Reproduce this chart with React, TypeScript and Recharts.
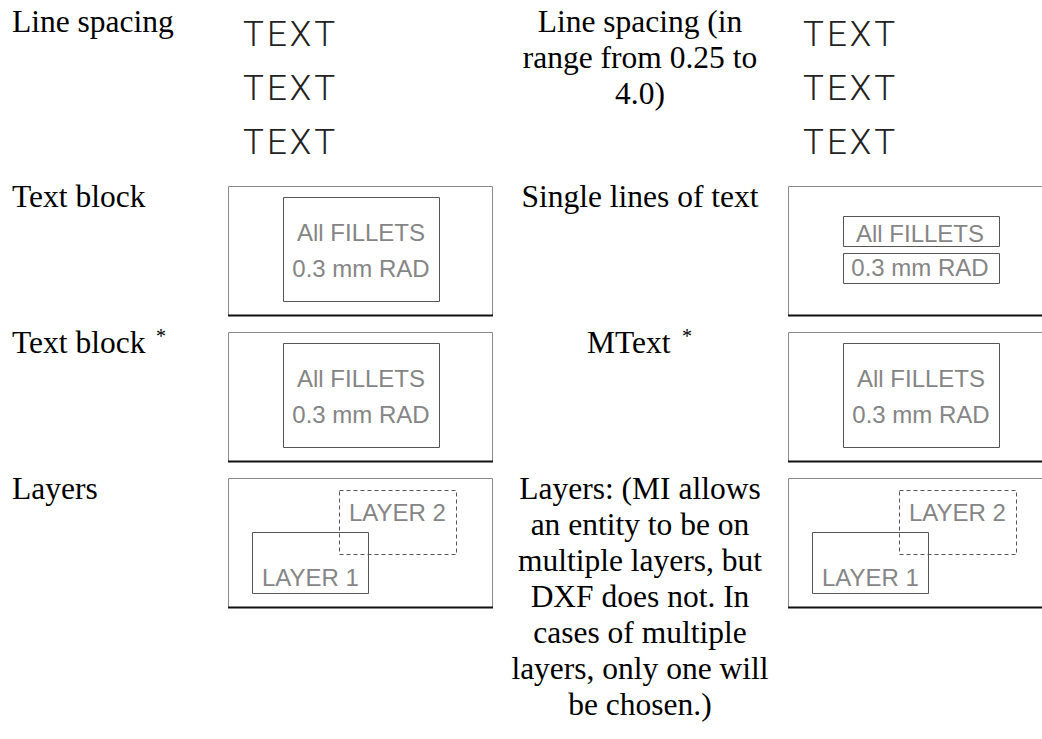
import { Surface, Layer, Rectangle, Text } from 'recharts';

// texts of the table
const rowLabels = ['Line spacing', 'Text block', 'Text block', 'Layers'];
const rowNotes = ['', '', '*', ''];
const midLines = [
  ['Line spacing (in', 'range from 0.25 to', '4.0)'],
  ['Single lines of text'],
  ['MText'],
  [
    'Layers: (MI allows',
    'an entity to be on',
    'multiple layers, but',
    'DXF does not. In',
    'cases of multiple',
    'layers, only one will',
    'be chosen.)',
  ],
];
const midNotes = ['', '', '*', ''];
const sampleWords = ['TEXT', 'TEXT', 'TEXT'];
const filletLines = ['All FILLETS', '0.3 mm RAD'];
const layerNames = ['LAYER 1', 'LAYER 2'];

const W = 1042;
const H = 739;
const SERIF = '"Liberation Serif", "Times New Roman", serif';
const SANS = '"Liberation Sans", Arial, sans-serif';
const CAD = 'Roboto, "Liberation Sans", sans-serif';

const colX = [228, 788];
const frameW = 264;
const frameH = 129;
const rowTop = [0, 186, 332, 478];
const labelBase = [32, 207, 353, 499];
const midX = 640;
const lineH = 36;
const drawGray = '#555';
const textGray = '#858585';

function Frame({ x, y }: { x: number; y: number }) {
  return (
    <Layer>
      <Rectangle x={x + 0.5} y={y + 0.5} width={frameW} height={frameH} fill="none" stroke="#8a8a8a" strokeWidth={1} />
      <Rectangle x={x} y={y + frameH - 0.5} width={frameW + 1} height={2} fill="#111" />
    </Layer>
  );
}

function BoxText({ x, y, value, anchor = 'middle' }: { x: number; y: number; value: string; anchor?: 'middle' | 'start' }) {
  return (
    <Text x={x} y={y} textAnchor={anchor} fontFamily={SANS} fontSize={24} fill={textGray}>
      {value}
    </Text>
  );
}

function BlockCell({ x, y }: { x: number; y: number }) {
  return (
    <Layer>
      <Frame x={x} y={y} />
      <Rectangle x={x + 55.5} y={y + 11.5} width={156} height={104} fill="none" stroke={drawGray} strokeWidth={1} />
      {filletLines.map((t, i) => (
        <BoxText key={t} x={x + 133} y={y + 55 + i * 36} value={t} />
      ))}
    </Layer>
  );
}

function SingleLinesCell({ x, y }: { x: number; y: number }) {
  return (
    <Layer>
      <Frame x={x} y={y} />
      {filletLines.map((t, i) => (
        <Layer key={t}>
          <Rectangle x={x + 55.5} y={y + 30.5 + i * 37} width={156} height={30} fill="none" stroke={drawGray} strokeWidth={1} />
          <BoxText x={x + 132} y={y + 56 + i * 34} value={t} />
        </Layer>
      ))}
    </Layer>
  );
}

function LayersCell({ x, y }: { x: number; y: number }) {
  return (
    <Layer>
      <Frame x={x} y={y} />
      <Rectangle x={x + 24.5} y={y + 54.5} width={116} height={61} fill="none" stroke={drawGray} strokeWidth={1} />
      <Rectangle
        x={x + 111.5}
        y={y + 12.5}
        width={117}
        height={64}
        fill="none"
        stroke={drawGray}
        strokeWidth={1}
        strokeDasharray="4 3"
      />
      <BoxText x={x + 34} y={y + 108} value={layerNames[0]} anchor="start" />
      <BoxText x={x + 121} y={y + 43} value={layerNames[1]} anchor="start" />
    </Layer>
  );
}

function SampleCell({ x }: { x: number }) {
  return (
    <Layer>
      {sampleWords.map((w, i) => (
        <Text key={i} x={x} y={46 + i * 54} fontFamily={CAD} fontWeight={300} fontSize={35} fill="#222" letterSpacing={3}>
          {w}
        </Text>
      ))}
    </Layer>
  );
}

export default function App() {
  return (
    <div style={{ position: 'absolute', left: 0, top: 0, width: W, height: H, background: '#fff' }}>
      <Surface width={W} height={H} viewBox={{ x: 0, y: 0, width: W, height: H }}>
        {/* left labels */}
        {rowLabels.map((t, i) => (
          <Layer key={i}>
            <Text x={12} y={labelBase[i]} fontFamily={SERIF} fontSize={31.5} fill="#000">
              {t}
            </Text>
            {rowNotes[i] && (
              <Text x={156} y={labelBase[i] - 10} fontFamily={SERIF} fontSize={20} fill="#000">
                {rowNotes[i]}
              </Text>
            )}
          </Layer>
        ))}

        {/* middle descriptions */}
        {midLines.map((lines, i) =>
          midNotes[i] ? (
            <Layer key={i}>
              <Text x={587} y={labelBase[i]} fontFamily={SERIF} fontSize={31.5} fill="#000">
                {lines[0]}
              </Text>
              <Text x={682} y={labelBase[i] - 10} fontFamily={SERIF} fontSize={20} fill="#000">
                {midNotes[i]}
              </Text>
            </Layer>
          ) : (
            <Layer key={i}>
              {lines.map((l, j) => (
                <Text key={j} x={midX} y={labelBase[i] + j * lineH} textAnchor="middle" fontFamily={SERIF} fontSize={31.5} fill="#000">
                  {l}
                </Text>
              ))}
            </Layer>
          )
        )}

        {/* examples */}
        <SampleCell x={243} />
        <SampleCell x={803} />
        <BlockCell x={colX[0]} y={rowTop[1]} />
        <SingleLinesCell x={colX[1]} y={rowTop[1]} />
        <BlockCell x={colX[0]} y={rowTop[2]} />
        <BlockCell x={colX[1]} y={rowTop[2]} />
        <LayersCell x={colX[0]} y={rowTop[3]} />
        <LayersCell x={colX[1]} y={rowTop[3]} />
      </Surface>
    </div>
  );
}
